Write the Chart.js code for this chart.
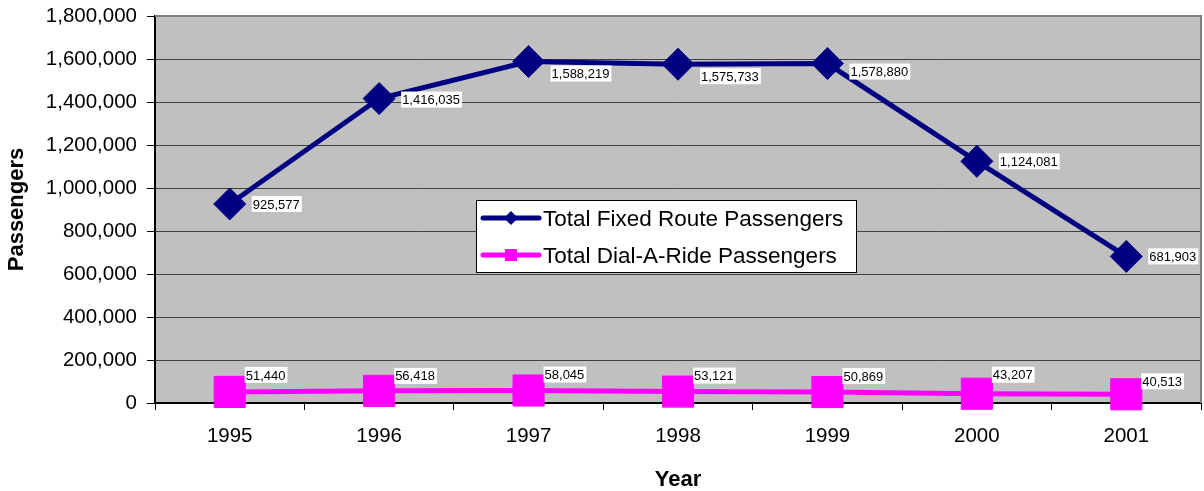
<!DOCTYPE html>
<html>
<head>
<meta charset="utf-8">
<script src="https://cdn.jsdelivr.net/npm/chart.js@4/dist/chart.umd.min.js"></script>
<style>
  html, body { margin: 0; padding: 0; background: #fff; }
</style>
</head>
<body>
<canvas id="passengers" width="1204" height="491"></canvas>
<script>
const years = ["1995", "1996", "1997", "1998", "1999", "2000", "2001"];
const fixedRoute = [925577, 1416035, 1588219, 1575733, 1578880, 1124081, 681903];
const dialARide = [51440, 56418, 58045, 53121, 50869, 43207, 40513];
const yTicks = [0, 200000, 400000, 600000, 800000, 1000000, 1200000, 1400000, 1600000, 1800000];

// vertical nudges for the value labels (excel moved a few of them)
const fixedLabelNudge = [0, 1, 12, 12, 8, 0, 0];
const dialLabelNudge = [-17, -15, -16, -16, -16, -19, -13];

const FONT = "Arial, 'Liberation Sans', sans-serif";
const fmt = v => v.toLocaleString("en-US");

const plotBackground = {
    id: "plotBackground",
    beforeDraw(chart) {
        const { ctx, chartArea: a } = chart;
        ctx.save();
        ctx.fillStyle = "#C0C0C0";
        ctx.fillRect(a.left, a.top, a.right - a.left, a.bottom - a.top);
        ctx.restore();
    },
    beforeDatasetsDraw(chart) {
        const { ctx, chartArea: a } = chart;
        ctx.save();
        ctx.strokeStyle = "#808080";
        ctx.lineWidth = 2;
        ctx.beginPath();
        ctx.moveTo(a.left, a.top);
        ctx.lineTo(a.right, a.top);
        ctx.lineTo(a.right, a.bottom);
        ctx.stroke();
        ctx.restore();
    }
};

const valueLabels = {
    id: "valueLabels",
    afterDatasetsDraw(chart) {
        const ctx = chart.ctx;
        const nudges = [fixedLabelNudge, dialLabelNudge];
        const dx = [22, 15];
        ctx.save();
        ctx.font = "13px " + FONT;
        ctx.textBaseline = "middle";
        chart.data.datasets.forEach((ds, di) => {
            chart.getDatasetMeta(di).data.forEach((pt, i) => {
                const text = fmt(ds.data[i]);
                const w = ctx.measureText(text).width;
                const x = pt.x + dx[di];
                const y = pt.y + nudges[di][i];
                ctx.fillStyle = "#fff";
                ctx.fillRect(x, y - 8, w + 3, 16);
                ctx.fillStyle = "#000";
                ctx.fillText(text, x + 1, y + 1);
            });
        });
        ctx.restore();
    }
};

const boxLegend = {
    id: "boxLegend",
    afterDraw(chart) {
        const ctx = chart.ctx;
        const a = chart.chartArea;
        const x0 = a.left + 321, y0 = a.top + 184, w = 380, h = 72;
        ctx.save();
        ctx.fillStyle = "#fff";
        ctx.fillRect(x0, y0, w, h);
        ctx.strokeStyle = "#000";
        ctx.lineWidth = 1;
        ctx.strokeRect(x0 + 0.5, y0 + 0.5, w, h);
        ctx.font = "22.5px " + FONT;
        ctx.textBaseline = "middle";
        chart.data.datasets.forEach((ds, i) => {
            const cy = y0 + 18 + i * 37;
            ctx.strokeStyle = ds.borderColor;
            ctx.lineWidth = 5;
            ctx.lineCap = "round";
            ctx.beginPath();
            ctx.moveTo(x0 + 7, cy);
            ctx.lineTo(x0 + 63, cy);
            ctx.stroke();
            ctx.fillStyle = ds.borderColor;
            ctx.beginPath();
            if (i === 0) {
                ctx.moveTo(x0 + 35 - 7, cy);
                ctx.lineTo(x0 + 35, cy - 7);
                ctx.lineTo(x0 + 35 + 7, cy);
                ctx.lineTo(x0 + 35, cy + 7);
                ctx.closePath();
            } else {
                ctx.rect(x0 + 29, cy - 6, 12, 12);
            }
            ctx.fill();
            ctx.fillStyle = "#000";
            ctx.fillText(ds.label, x0 + 67, cy + 2);
        });
        ctx.restore();
    }
};

new Chart(document.getElementById("passengers"), {
    type: "line",
    data: {
        labels: years,
        datasets: [
            {
                label: "Total Fixed Route Passengers",
                data: fixedRoute,
                borderColor: "#000080",
                backgroundColor: "#000080",
                borderWidth: 5,
                pointStyle: "rectRot",
                pointRadius: 16,
                pointBorderWidth: 1,
                tension: 0,
                clip: false
            },
            {
                label: "Total Dial-A-Ride Passengers",
                data: dialARide,
                borderColor: "#FF00FF",
                backgroundColor: "#FF00FF",
                borderWidth: 5,
                pointStyle: "rect",
                pointRadius: 22,
                pointBorderWidth: 1,
                tension: 0,
                clip: false
            }
        ]
    },
    options: {
        responsive: false,
        animation: false,
        layout: { autoPadding: false, padding: { top: 16, right: 3, left: 0, bottom: 0 } },
        plugins: {
            legend: { display: false },
            tooltip: { enabled: false }
        },
        scales: {
            x: {
                offset: true,
                grid: {
                    offset: true,
                    drawOnChartArea: false,
                    tickLength: 7,
                    tickColor: "#000"
                },
                border: { color: "#000", width: 2 },
                ticks: {
                    color: "#000",
                    font: { family: FONT, size: 20.5 },
                    padding: 14
                },
                title: {
                    display: true,
                    text: "Year",
                    color: "#000",
                    font: { family: FONT, size: 22, weight: "bold", lineHeight: 1 },
                    padding: { top: 0, bottom: 0 }
                },
                afterFit(scale) {
                    scale.height = 88;
                    scale.paddingLeft = 0;
                    scale.paddingRight = 0;
                }
            },
            y: {
                min: 0,
                max: 1800000,
                afterBuildTicks(scale) {
                    scale.ticks = yTicks.map(v => ({ value: v }));
                },
                grid: {
                    color: ctx => ctx.tick && ctx.tick.value === 1800000 ? "#808080" : "#404040",
                    tickLength: 8,
                    tickColor: "#000"
                },
                border: { color: "#000", width: 2 },
                ticks: {
                    color: "#000",
                    font: { family: FONT, size: 20.5 },
                    padding: 10,
                    callback: v => fmt(v)
                },
                title: {
                    display: true,
                    text: "Passengers",
                    color: "#000",
                    font: { family: FONT, size: 22, weight: "bold", lineHeight: 1 },
                    padding: { top: 6, bottom: 0 }
                },
                afterFit(scale) {
                    scale.width = 155;
                    scale.paddingTop = 0;
                    scale.paddingBottom = 0;
                }
            }
        }
    },
    plugins: [plotBackground, valueLabels, boxLegend]
});
</script>
</body>
</html>
